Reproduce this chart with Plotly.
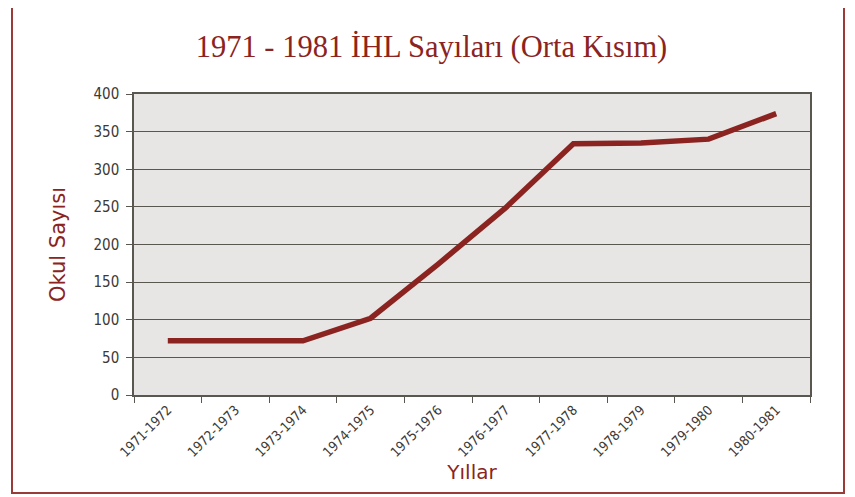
import plotly.graph_objects as go

years = ["1971-1972", "1972-1973", "1973-1974", "1974-1975", "1975-1976",
         "1976-1977", "1977-1978", "1978-1979", "1979-1980", "1980-1981"]
counts = [72, 72, 72, 102, 174, 249, 334, 335, 340, 374]
y_ticks = [0, 50, 100, 150, 200, 250, 300, 350, 400]

red = "#8b2420"
border = "#9b3b37"
grid = "#5a5650"
tickc = "#3d3935"

fig = go.Figure(go.Scatter(
    x=years, y=counts, mode="lines",
    line=dict(color=red, width=5.5),
    hoverinfo="x+y"))

# page has an 8px body margin; figure coordinates are page coordinates minus 8
OFF = 8
W, H = 855 - OFF, 497 - OFF
L, T = 134 - OFF, 94 - OFF
R = W - (810 - OFF)
B = H - (395 - OFF)
pw, ph = W - L - R, H - T - B

def px(x):
    return (x - OFF - L) / pw

def py(y):
    return (H - B - (y - OFF)) / ph

fig.add_shape(type="path",
              path=f"M {px(12)} {py(-20)} L {px(12)} {py(493)} L {px(844)} {py(493)} L {px(844)} {py(-20)}",
              xref="paper", yref="paper", line=dict(color=border, width=2), layer="above")

fig.update_layout(
    width=W, height=H,
    margin=dict(l=L, r=R, t=T, b=B),
    paper_bgcolor="white",
    plot_bgcolor="#e7e6e5",
    showlegend=False,
    title=dict(text="1971 - 1981 İHL Sayıları (Orta Kısım)",
               font=dict(family="Liberation Serif, serif", size=30.5, color=red),
               x=0.5, xanchor="center", y=1 - (46 - OFF) / H, yanchor="middle"),
    xaxis=dict(
        title=dict(text="Yıllar", font=dict(family="DejaVu Sans", size=20, color=red), standoff=6),
        tickangle=-45, tickfont=dict(family="DejaVu Sans Condensed, DejaVu Sans", size=13.5, color=tickc),
        range=[-0.5, 9.5], automargin=False,
        showline=True, linecolor=grid, linewidth=1.5, mirror=True,
        ticks="outside", tickson="boundaries", ticklen=6, tickcolor=grid,
        showgrid=False, zeroline=False, fixedrange=True),
    yaxis=dict(
        title=dict(text="Okul Sayısı", font=dict(family="DejaVu Sans", size=21, color=red), standoff=22),
        range=[0, 400], tickvals=y_ticks, automargin=False,
        tickfont=dict(family="DejaVu Sans Condensed, DejaVu Sans", size=15, color=tickc),
        ticklabelstandoff=4,
        showline=True, linecolor=grid, linewidth=1.5, mirror=True,
        ticks="outside", ticklen=6, tickcolor=grid,
        showgrid=True, gridcolor=grid, gridwidth=1, zeroline=False, fixedrange=True),
)

fig.write_html("out.html")
